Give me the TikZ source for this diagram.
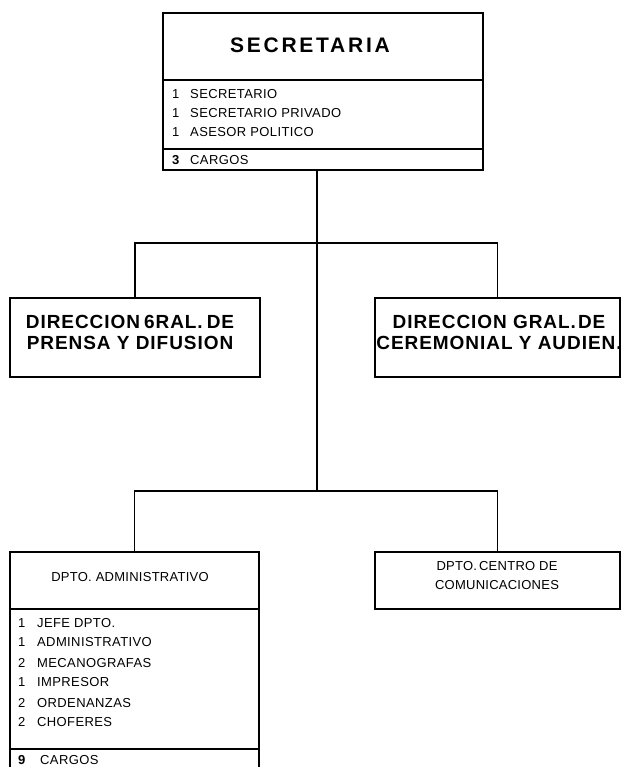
\documentclass[tikz,border=0pt]{standalone}
\usepackage{fontspec}
\setmainfont{Liberation Sans}
\begin{document}
\begin{tikzpicture}[x=1pt,y=-1pt,
  box/.style={draw, line width=1.6pt, inner sep=0pt},
  sep/.style={line width=1.4pt},
  link/.style={line width=1.2pt},
  item/.style={anchor=west, inner sep=0pt, font=\fontsize{13}{15}\selectfont\addfontfeature{LetterSpace=3}},
  head/.style={inner sep=0pt, align=center, font=\fontsize{19}{21}\selectfont\bfseries\addfontfeature{LetterSpace=5}},
  sub/.style={inner sep=0pt, align=center, font=\fontsize{13}{19}\selectfont\addfontfeature{LetterSpace=2}},
  ttl/.style={inner sep=0pt, font=\fontsize{21}{24}\selectfont\bfseries\addfontfeature{LetterSpace=13}}]
\useasboundingbox (0,0) rectangle (622,767);

% top box
\node[box, minimum width=320pt, minimum height=157pt] (sec) at (323,91.5) {};
\draw[sep] (sec.west |- 0,80) -- (sec.east |- 0,80);
\draw[sep] (sec.west |- 0,149) -- (sec.east |- 0,149);
\node[ttl] (sectitle) at (310,45) {SECRETARIA};
\node[item] (n1) at (172,94) {1};
\node[item] (i1) at (190,94) {SECRETARIO};
\node[item] (n2) at (172,113) {1};
\node[item] (i2) at (190,113) {SECRETARIO\hspace{4pt}PRIVADO};
\node[item] (n3) at (172,132) {1};
\node[item] (i3) at (190,132) {ASESOR POLITICO};
\node[item, font=\fontsize{13}{15}\selectfont\bfseries] (n4) at (172,160) {3};
\node[item] (i4) at (190,160) {CARGOS};

% upper boxes
\node[box, minimum width=250pt, minimum height=79pt] (dl) at (135,337.5) {};
\node[head] (dltxt) at (130,332) {DIRECCION\hspace{4pt}6RAL.\hspace{4pt}DE\\PRENSA Y DIFUSION};
\node[box, minimum width=245pt, minimum height=79pt] (dr) at (497.5,337.5) {};
\node[head] (drtxt) at (499,332) {DIRECCION GRAL.\hspace{2pt}DE\\CEREMONIAL Y AUDIEN.};

% lower boxes
\node[box, minimum width=249pt, minimum height=223pt] (bl) at (134.5,663.5) {};
\draw[sep] (bl.west |- 0,609) -- (bl.east |- 0,609);
\draw[sep] (bl.west |- 0,749) -- (bl.east |- 0,749);
\node[sub] (bltxt) at (130,577) {DPTO.\hspace{4pt}ADMINISTRATIVO};
\node[item] (b1) at (18,623) {1};
\node[item] (c1) at (37,623) {JEFE\hspace{4pt}DPTO.};
\node[item] (b2) at (18,642) {1};
\node[item] (c2) at (37,642) {ADMINISTRATIVO};
\node[item] (b3) at (18,663) {2};
\node[item] (c3) at (37,663) {MECANOGRAFAS};
\node[item] (b4) at (18,682) {1};
\node[item] (c4) at (37,682) {IMPRESOR};
\node[item] (b5) at (18,703) {2};
\node[item] (c5) at (37,703) {ORDENANZAS};
\node[item] (b6) at (18,722) {2};
\node[item] (c6) at (37,722) {CHOFERES};
\node[item, font=\fontsize{13}{15}\selectfont\bfseries] (b7) at (18,760) {9};
\node[item] (c7) at (40,760) {CARGOS};

\node[box, minimum width=245pt, minimum height=57pt] (br) at (497.5,580.5) {};
\node[sub] (brtxt) at (497,576) {DPTO.\hspace{2pt}CENTRO DE\\COMUNICACIONES};

% connectors
\coordinate (j1) at (317,243);
\coordinate (j2) at (317,491);
\draw[link] (sec.south -| j1) -- (j2);
\draw[link] (dl.north) |- (j1) -| (dr.north);
\draw[link] (bl.north) |- (j2) -| (br.north);
\end{tikzpicture}
\end{document}
